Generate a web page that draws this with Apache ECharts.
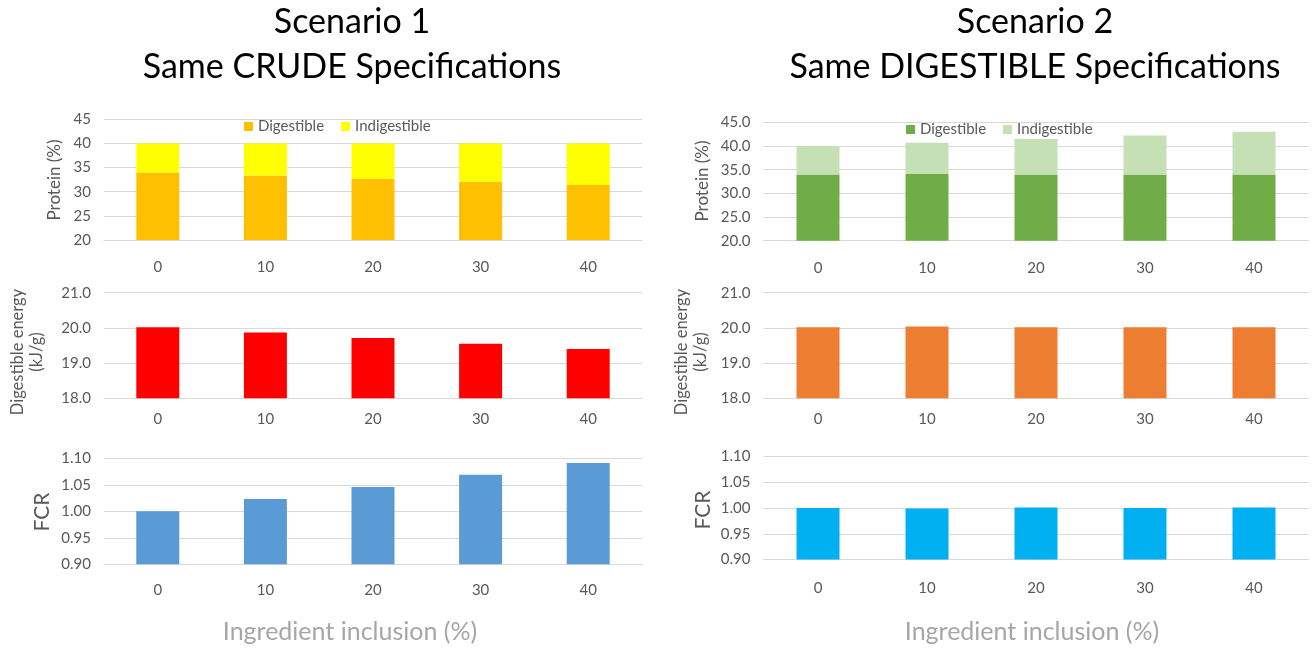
<!DOCTYPE html>
<html><head><meta charset="utf-8">
<script src="https://cdn.jsdelivr.net/npm/echarts@6/dist/echarts.min.js"></script>
<style>html,body{margin:0;padding:0;background:#fff}#c{width:1312px;height:648px}</style>
</head><body><div id="c"></div>
<script>
// ---- data ----
const categories = ['0', '10', '20', '30', '40'];
const s1Digestible   = [34.0, 33.35, 32.7, 32.05, 31.4];
const s1Indigestible = [6.0, 6.65, 7.3, 7.95, 8.6];
const s2Digestible   = [34.0, 34.1, 34.0, 34.0, 34.0];
const s2Indigestible = [6.0, 6.6, 7.5, 8.2, 9.0];
const s1Energy = [20.02, 19.87, 19.71, 19.55, 19.40];
const s2Energy = [20.02, 20.04, 20.02, 20.02, 20.02];
const s1FCR = [1.000, 1.023, 1.046, 1.069, 1.091];
const s2FCR = [1.000, 0.999, 1.001, 1.000, 1.001];
const proteinAxis = [20, 45, 5];
const energyAxis = [18, 21, 1];
const fcrAxis = [0.90, 1.10, 0.05];
const titles1 = ['Scenario 1', 'Same CRUDE Specifications'];
const titles2 = ['Scenario 2', 'Same DIGESTIBLE Specifications'];
const xName = 'Ingredient inclusion (%)';

const FONT = 'Lato, "Open Sans", sans-serif';
const GRID_C = '#d9d9d9';
const LBL_C = '#595959';

const grids = [
  {left: 104, top: 119.3, width: 538, height: 120.7},
  {left: 763.5, top: 122.3, width: 545, height: 118.4},
  {left: 104, top: 292.7, width: 538, height: 105.6},
  {left: 763.5, top: 292.7, width: 545, height: 105.6},
  {left: 104, top: 458.3, width: 538, height: 106},
  {left: 763.5, top: 456.3, width: 545, height: 103.3}
];
const xMargins = [20, 20, 13, 13, 18, 21];

function xAxis(i) {
  return {
    type: 'category', gridIndex: i, data: categories,
    axisTick: {show: false},
    axisLine: {lineStyle: {color: GRID_C, width: 1}},
    axisLabel: {color: LBL_C, fontSize: 15, fontFamily: FONT, margin: xMargins[i]}
  };
}
function yAxis(i, ax, dec) {
  return {
    type: 'value', gridIndex: i, min: ax[0], max: ax[1], interval: ax[2],
    axisLine: {show: false}, axisTick: {show: false},
    splitLine: {lineStyle: {color: GRID_C, width: 1}},
    axisLabel: {color: LBL_C, fontSize: 15, fontFamily: FONT, margin: 13,
      formatter: v => Number(v).toFixed(dec)}
  };
}
function bar(name, i, data, color, stack) {
  return {
    type: 'bar', name, xAxisIndex: i, yAxisIndex: i, data, barWidth: 43,
    stack: stack, itemStyle: {color}, emphasis: {disabled: true}, animation: false
  };
}
function txt(x, y, text, size, color, rot, lh) {
  return {
    type: 'text', x, y, rotation: rot || 0, silent: true,
    style: {text, fill: color, fontSize: size, fontFamily: FONT,
      align: 'center', verticalAlign: 'middle', lineHeight: lh || size * 1.2}
  };
}
function legend(left, top, c1, c2) {
  return {
    left, top, padding: 0, itemWidth: 9, itemHeight: 9, itemGap: 17, icon: 'rect',
    textStyle: {color: LBL_C, fontSize: 15, fontFamily: FONT},
    selectedMode: false,
    data: [{name: 'Digestible', itemStyle: {color: c1}}, {name: 'Indigestible', itemStyle: {color: c2}}]
  };
}

const option = {
  animation: false,
  backgroundColor: '#ffffff',
  grid: grids.map(g => Object.assign({outerBoundsMode: 'none', containLabel: false}, g)),
  xAxis: [0, 1, 2, 3, 4, 5].map(xAxis),
  yAxis: [
    yAxis(0, proteinAxis, 0), yAxis(1, proteinAxis, 1),
    yAxis(2, energyAxis, 1), yAxis(3, energyAxis, 1),
    yAxis(4, fcrAxis, 2), yAxis(5, fcrAxis, 2)
  ],
  legend: [legend(244, 119, '#FFC000', '#FFFF00'), legend(906, 122, '#70AD47', '#C5E0B4')],
  series: [
    bar('Digestible', 0, s1Digestible, '#FFC000', 's1'),
    bar('Indigestible', 0, s1Indigestible, '#FFFF00', 's1'),
    bar('Digestible', 1, s2Digestible, '#70AD47', 's2'),
    bar('Indigestible', 1, s2Indigestible, '#C5E0B4', 's2'),
    bar('Energy1', 2, s1Energy, '#FF0000'),
    bar('Energy2', 3, s2Energy, '#ED7D31'),
    bar('FCR1', 4, s1FCR, '#5B9BD5'),
    bar('FCR2', 5, s2FCR, '#00B0F0')
  ],
  graphic: [
    txt(352, 22, titles1[0], 34, '#000'),
    txt(352, 67, titles1[1], 34, '#000'),
    txt(1035, 22, titles2[0], 34, '#000'),
    txt(1035, 67, titles2[1], 34, '#000'),
    txt(55, 180, 'Protein (%)', 17, LBL_C, Math.PI / 2),
    txt(703, 181, 'Protein (%)', 17, LBL_C, Math.PI / 2),
    txt(27.5, 352, 'Digestible energy\n(kJ/g)', 16.5, LBL_C, Math.PI / 2, 19),
    txt(691, 352, 'Digestible energy\n(kJ/g)', 16.5, LBL_C, Math.PI / 2, 19),
    txt(42, 512, 'FCR', 21, LBL_C, Math.PI / 2),
    txt(703, 510, 'FCR', 21, LBL_C, Math.PI / 2),
    txt(350, 632, xName, 25, '#a6a6a6'),
    txt(1032, 632, xName, 25, '#a6a6a6')
  ]
};
const chart = echarts.init(document.getElementById('c'), null, {renderer: 'canvas'});
chart.setOption(option);
</script>
</body></html>
